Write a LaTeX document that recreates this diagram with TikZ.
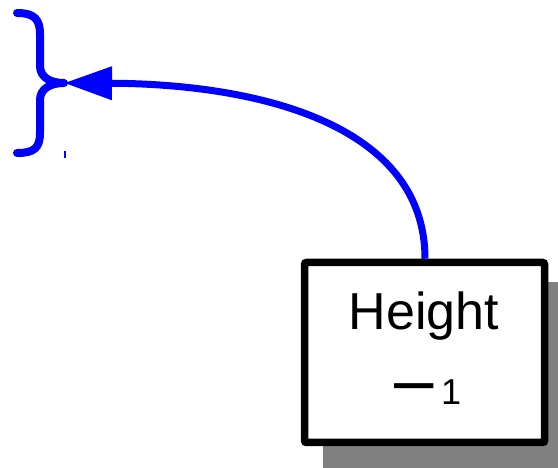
\documentclass[tikz,border=0pt]{standalone}
\usepackage{fontspec}
\usepackage{graphicx}
\setmainfont{Liberation Sans}
\usetikzlibrary{arrows.meta}
\definecolor{shadowgray}{RGB}{128,128,128}
\definecolor{pureblue}{RGB}{0,0,255}
\tikzset{
  boxstyle/.style={draw=black, line width=7.5pt, fill=white, rounded corners=2pt,
    minimum width=240pt, minimum height=180pt, inner sep=0pt},
  bluestroke/.style={draw=pureblue, line width=7pt},
  txt/.style={anchor=base, inner sep=0pt, text=black},
}
\begin{document}
\begin{tikzpicture}[x=1pt, y=-1pt]
\useasboundingbox (0,0) rectangle (558,468);
% shadow
\fill[shadowgray] (323,282) rectangle (580,490);
% box
\node[boxstyle] (box) at (424.5,352.5) {};
\node[txt] (h) at (424,330) {\fontsize{52}{60}\selectfont Height};
\node[txt] (m) at (426,405) {\fontsize{54}{60}\selectfont\raisebox{-5pt}{\scalebox{1.5}[1.3]{−}}\hspace{3pt}\fontsize{36}{40}\selectfont 1};
% brace
\coordinate (tip) at (64,83);
\draw[bluestroke, line width=8pt, line cap=round, line join=round]
  (17,13) .. controls (34,13) and (40,19) .. (40,34) -- (40,66)
  .. controls (40,77) and (50,83) .. (tip)
  .. controls (50,83) and (40,89) .. (40,100) -- (40,133)
  .. controls (40,148) and (34,153) .. (17,153);
\coordinate (tick) at (65,151);
\draw[pureblue, line width=1.2pt] (tick) -- ++(0,7);
% arrow
\draw[bluestroke, -{Triangle[length=48pt,width=32pt]}]
  (box.north -| 425,0) .. controls (425,125) and (260,84) .. (tip);
\end{tikzpicture}
\end{document}
